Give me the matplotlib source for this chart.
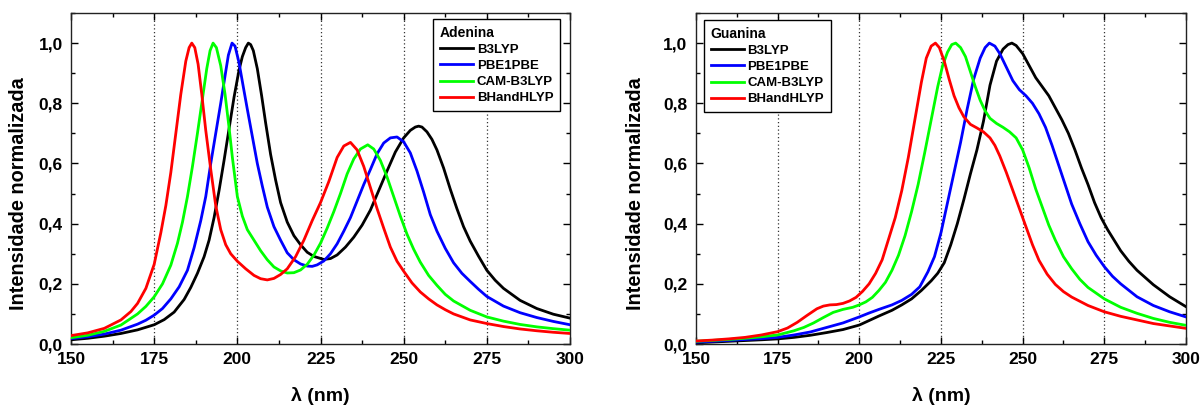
import matplotlib
matplotlib.use("Agg")
from matplotlib import pyplot as plt
from matplotlib.ticker import MultipleLocator, FuncFormatter

# Adenina
ade_b3lyp_x = [150, 155, 160, 165, 170, 175, 178, 181, 184, 186, 188, 190, 191.5, 193, 194.5, 196, 197.5, 199,
               200.5, 201.5, 202.5, 203.3, 204, 204.8, 206, 207.3, 208.5, 210, 211.5, 213, 215, 217, 219, 221,
               223, 226, 228, 230, 232.5, 235, 237.5, 240, 242.5, 245, 247.5, 250, 252, 253.5, 254.5, 255.5,
               257, 258.5, 260, 262, 264, 266, 268, 270, 272.5, 275, 277.5, 280, 285, 290, 295, 300]
ade_b3lyp_y = [0.014, 0.019, 0.026, 0.035, 0.047, 0.064, 0.081, 0.106, 0.148, 0.188, 0.235, 0.29, 0.345, 0.42,
               0.51, 0.61, 0.715, 0.82, 0.91, 0.955, 0.985, 1.0, 0.995, 0.975, 0.915, 0.825, 0.735, 0.63, 0.545,
               0.47, 0.405, 0.36, 0.33, 0.305, 0.291, 0.281, 0.284, 0.296, 0.322, 0.355, 0.395, 0.445, 0.51, 0.575,
               0.638, 0.685, 0.71, 0.721, 0.724, 0.721, 0.705, 0.68, 0.645, 0.585, 0.515, 0.45, 0.39, 0.342, 0.292,
               0.245, 0.212, 0.185, 0.145, 0.118, 0.099, 0.086]

ade_pbe_x = [150, 155, 160, 165, 170, 172.5, 175, 177.5, 180, 182.5, 185, 187, 189, 190.5, 192, 193.5, 195,
             196.5, 197.3, 198.4, 199.3, 200.5, 201.7, 203, 204.5, 206, 207.5, 209, 211, 213, 215, 217, 219, 221,
             222.5, 224, 226, 228, 230, 232, 234, 236, 238, 240, 242, 244, 246, 248, 250, 252, 254, 256, 258,
             260, 262.5, 265, 267.5, 270, 272.5, 275, 280, 285, 290, 295, 300]
ade_pbe_y = [0.018, 0.024, 0.033, 0.046, 0.066, 0.079, 0.096, 0.118, 0.15, 0.19, 0.245, 0.32, 0.41, 0.49, 0.6,
             0.7, 0.8, 0.905, 0.96, 1.0, 0.99, 0.935, 0.86, 0.78, 0.69, 0.6, 0.525, 0.455, 0.39, 0.345, 0.303,
             0.28, 0.266, 0.259, 0.258, 0.263, 0.276, 0.3, 0.333, 0.375, 0.42, 0.475, 0.53, 0.58, 0.632, 0.668,
             0.685, 0.688, 0.672, 0.635, 0.575, 0.505, 0.43, 0.375, 0.318, 0.27, 0.235, 0.208, 0.182, 0.158,
             0.126, 0.104, 0.088, 0.075, 0.064]

ade_cam_x = [150, 155, 160, 165, 170, 172.5, 175, 177.5, 180, 182, 183.5, 185, 186.5, 188, 189.5, 190.8, 191.8,
             192.7, 193.7, 195, 196.3, 197.5, 198.5, 200, 201.5, 203, 205, 207, 209, 211, 213, 215, 217, 219,
             221, 223, 225, 227, 229, 231, 233, 235, 237, 239.2, 241, 243, 245, 247, 249, 251, 253, 255, 257.5,
             260, 262.5, 265, 270, 275, 280, 285, 290, 295, 300]
ade_cam_y = [0.021, 0.029, 0.042, 0.063, 0.1, 0.125, 0.157, 0.2, 0.262, 0.335, 0.405, 0.49, 0.59, 0.7, 0.815,
             0.915, 0.975, 1.0, 0.985, 0.925, 0.83, 0.72, 0.62, 0.49, 0.425, 0.38, 0.345, 0.31, 0.28, 0.256,
             0.243, 0.236, 0.237, 0.246, 0.265, 0.295, 0.335, 0.385, 0.44, 0.5, 0.565, 0.615, 0.648, 0.662,
             0.648, 0.61, 0.555, 0.49, 0.425, 0.365, 0.315, 0.272, 0.228, 0.195, 0.165, 0.143, 0.112, 0.09,
             0.076, 0.065, 0.057, 0.051, 0.046]

ade_bh_x = [150, 155, 160, 165, 168, 170, 172.5, 175, 177, 178.5, 180, 181.5, 183, 184.5, 185.5, 186.3, 187.2,
            188.2, 189.3, 190.5, 192, 193.5, 195, 196.5, 198, 200, 202.5, 205, 207, 209, 211, 213, 215, 217.5,
            220, 222.5, 225, 227.5, 230, 232, 234, 236, 238, 240, 242, 244, 246, 248, 250, 252.5, 255, 257.5,
            260, 262.5, 265, 270, 275, 280, 285, 290, 295, 300]
ade_bh_y = [0.028, 0.037, 0.052, 0.08, 0.108, 0.135, 0.185, 0.265, 0.37, 0.46, 0.57, 0.7, 0.83, 0.94, 0.985,
            1.0, 0.985, 0.93, 0.83, 0.71, 0.58, 0.46, 0.38, 0.33, 0.3, 0.275, 0.25, 0.228, 0.217, 0.213, 0.218,
            0.231, 0.25, 0.29, 0.345, 0.41, 0.47, 0.54, 0.62, 0.658, 0.67, 0.645, 0.59, 0.52, 0.45, 0.385, 0.322,
            0.275, 0.242, 0.203, 0.173, 0.15, 0.13, 0.114, 0.1, 0.08, 0.068, 0.058, 0.05, 0.044, 0.039, 0.035]

# Guanina
gua_b3lyp_x = [150, 160, 170, 175, 180, 185, 190, 195, 200, 203, 206, 210, 213, 216, 219, 222, 224, 226, 228,
               230, 232, 234, 236, 238, 240, 242, 244, 245.5, 246.7, 248, 250, 252, 254, 256, 258, 260, 262, 264,
               266, 268, 270, 272, 274, 276, 278, 280, 282.5, 285, 290, 295, 300]
gua_b3lyp_y = [0.004, 0.009, 0.014, 0.017, 0.022, 0.029, 0.038, 0.048, 0.063, 0.078, 0.093, 0.112, 0.13, 0.15,
               0.178, 0.21, 0.235, 0.27, 0.33, 0.4, 0.48, 0.565, 0.645, 0.74, 0.86, 0.94, 0.98, 0.995, 1.0, 0.992,
               0.965, 0.925, 0.885, 0.855, 0.825, 0.785, 0.745, 0.7, 0.645, 0.585, 0.53, 0.47, 0.42, 0.38, 0.345,
               0.31, 0.275, 0.245, 0.197, 0.157, 0.124]

gua_pbe_x = [150, 160, 170, 175, 180, 185, 190, 195, 200, 203, 206, 210, 213, 216, 218.5, 221, 223, 225, 227,
             229, 231, 233, 235, 237, 238.5, 239.8, 241.5, 243, 245, 247, 249, 251, 253, 255, 257, 259, 261, 263,
             265, 267.5, 270, 272.5, 275, 277.5, 280, 285, 290, 295, 300]
gua_pbe_y = [0.006, 0.012, 0.018, 0.022, 0.03, 0.04, 0.055, 0.07, 0.09, 0.103, 0.115, 0.13, 0.145, 0.165, 0.19,
             0.24, 0.29, 0.37, 0.47, 0.57, 0.67, 0.78, 0.88, 0.95, 0.985, 1.0, 0.99, 0.965, 0.92, 0.875, 0.845,
             0.825, 0.8, 0.765, 0.72, 0.66, 0.595, 0.53, 0.465, 0.4, 0.34, 0.295, 0.257, 0.225, 0.2, 0.157,
             0.128, 0.107, 0.09]

gua_cam_x = [150, 155, 160, 165, 170, 175, 180, 183, 186, 189, 192, 195, 198, 200, 202, 204, 206, 208, 210, 212,
             214, 216, 218, 220, 222, 224, 225.5, 227, 228.3, 229.5, 231, 232.5, 234, 235.5, 237, 238.5, 240, 242,
             244, 246, 248, 250, 252, 254, 256, 258, 260, 262.5, 265, 267.5, 270, 275, 280, 285, 290, 295, 300]
gua_cam_y = [0.009, 0.012, 0.015, 0.019, 0.024, 0.03, 0.044, 0.055, 0.07, 0.088, 0.105, 0.115, 0.122, 0.13,
             0.14, 0.155, 0.178, 0.205, 0.245, 0.295, 0.36, 0.44, 0.53, 0.635, 0.745, 0.855, 0.925, 0.97, 0.995,
             1.0, 0.985, 0.955, 0.905, 0.855, 0.81, 0.775, 0.75, 0.733, 0.72, 0.705, 0.685, 0.645, 0.585, 0.515,
             0.455, 0.395, 0.345, 0.29, 0.25, 0.215, 0.188, 0.15, 0.122, 0.102, 0.085, 0.072, 0.062]

gua_bh_x = [150, 155, 160, 165, 170, 175, 178, 181, 184, 187, 189, 191, 193, 195, 197, 199, 201, 203, 205, 207,
            209, 211, 213, 215, 217, 219, 220.5, 222, 223.3, 224.5, 226, 227.5, 229, 230.5, 232, 234, 236, 238,
            240, 241.5, 243, 245, 247, 249, 251, 253, 255, 257.5, 260, 262.5, 265, 270, 275, 280, 285, 290, 295,
            300]
gua_bh_y = [0.01, 0.013, 0.017, 0.022, 0.03, 0.041, 0.053, 0.072, 0.095, 0.117, 0.126, 0.13, 0.131, 0.135,
            0.143, 0.155, 0.175, 0.2, 0.235, 0.28, 0.35, 0.42, 0.51, 0.62, 0.745, 0.87, 0.95, 0.99, 1.0, 0.985,
            0.94, 0.88, 0.825, 0.785, 0.755, 0.73, 0.718, 0.705, 0.685, 0.66, 0.625, 0.57, 0.51, 0.45, 0.39,
            0.33, 0.278, 0.232, 0.198, 0.174, 0.156, 0.128, 0.107, 0.092, 0.08, 0.068, 0.06, 0.052]

methods = ["B3LYP", "PBE1PBE", "CAM-B3LYP", "BHandHLYP"]
colors = ["#000000", "#0000ff", "#00ff00", "#ff0000"]
guides = [175, 200, 225, 250, 275]


def comma(v, pos):
    return ("%.1f" % v).replace(".", ",")


def panel(ax, curves, title, legend_loc, anchor, ylabel_x):
    for xg in guides:
        ax.axvline(xg, color="#333333", lw=0.9, ls=(0, (1, 2)), zorder=1)
    for (xs, ys), name, c in zip(curves, methods, colors):
        ax.plot(xs, ys, color=c, lw=2.0, label=name, zorder=3, solid_joinstyle="round")

    ax.set_xlim(150, 300)
    ax.set_ylim(0, 1.1)
    ax.xaxis.set_major_locator(MultipleLocator(25))
    ax.xaxis.set_minor_locator(MultipleLocator(12.5))
    ax.yaxis.set_major_locator(MultipleLocator(0.2))
    ax.yaxis.set_minor_locator(MultipleLocator(0.1))
    ax.yaxis.set_major_formatter(FuncFormatter(comma))
    ax.tick_params(which="both", direction="in", top=True, right=True, labelsize=12.5, pad=6, width=1)
    ax.tick_params(which="major", length=5)
    ax.tick_params(which="minor", length=3)
    for sp in ax.spines.values():
        sp.set_linewidth(1.0)
        sp.set_color("#222222")

    ax.set_xlabel("λ (nm)", fontsize=14, fontweight="bold")
    ax.set_ylabel("Intensidade normalizada", fontsize=14.3, fontweight="bold")
    ax.xaxis.set_label_coords(0.5, -0.13)
    ax.yaxis.set_label_coords(ylabel_x, 0.455)

    leg = ax.legend(title=title, loc=legend_loc, bbox_to_anchor=anchor, borderaxespad=0,
                    fontsize=9.5, title_fontsize=10, handlelength=2.5, handletextpad=0.3,
                    labelspacing=0.3, borderpad=0.5, fancybox=False, framealpha=1,
                    edgecolor="black", alignment="left")
    leg.get_frame().set_linewidth(1.0)
    leg.get_title().set_fontweight("bold")
    for t in leg.get_texts():
        t.set_fontweight("bold")


def main():
    plt.rcParams["font.family"] = ["Liberation Sans", "DejaVu Sans"]
    plt.rcParams["font.weight"] = "bold"

    fig = plt.figure(figsize=(12.02, 4.05), dpi=100)
    ax1 = fig.add_axes([0.0591, 0.1506, 0.4151, 0.8173])
    ax2 = fig.add_axes([0.5790, 0.1506, 0.4077, 0.8173])

    panel(ax1, [(ade_b3lyp_x, ade_b3lyp_y), (ade_pbe_x, ade_pbe_y), (ade_cam_x, ade_cam_y),
                (ade_bh_x, ade_bh_y)], "Adenina", "upper right", (1 - 10 / 499, 1 - 6 / 331), -0.086)
    panel(ax2, [(gua_b3lyp_x, gua_b3lyp_y), (gua_pbe_x, gua_pbe_y), (gua_cam_x, gua_cam_y),
                (gua_bh_x, gua_bh_y)], "Guanina", "upper left", (8 / 489.7, 1 - 7 / 331), -0.105)

    fig.savefig("out.png", dpi=100)


if __name__ == "__main__":
    main()
